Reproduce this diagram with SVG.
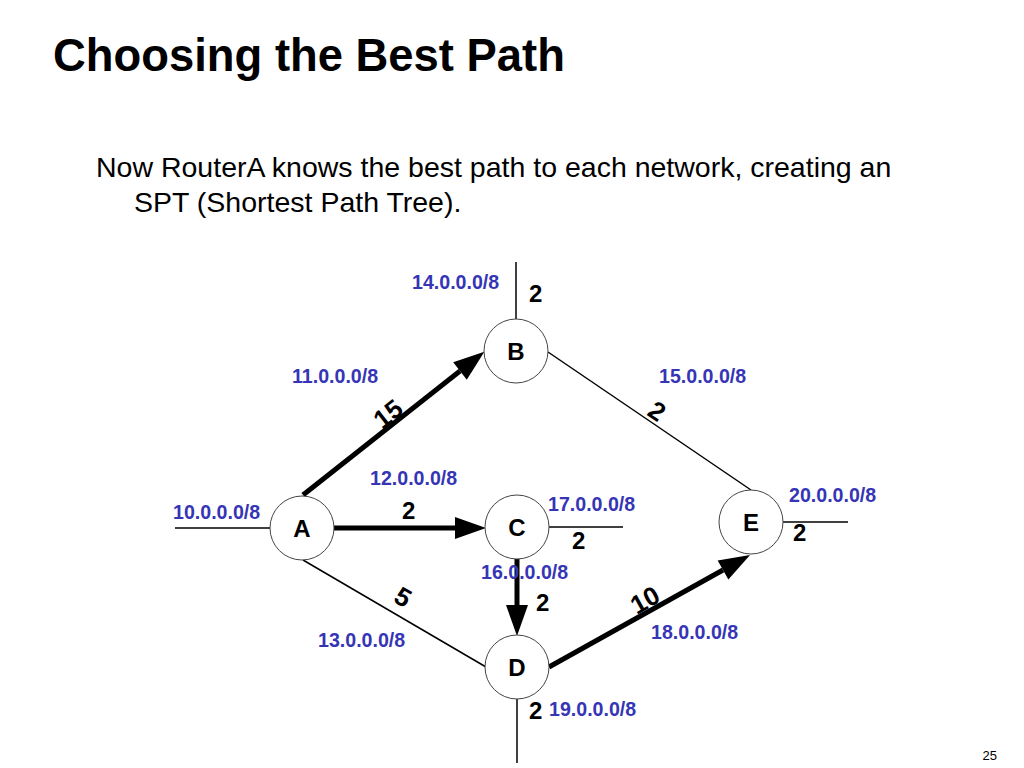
<svg xmlns="http://www.w3.org/2000/svg" width="1024" height="768" viewBox="0 0 1024 768">
<style>
.title{font-family:"Liberation Sans",Arial,sans-serif;font-weight:bold;font-size:45.4px;fill:#000}
.body{font-family:"Liberation Sans",Arial,sans-serif;font-size:28.5px;fill:#000}
.net{font-family:"Liberation Sans",Arial,sans-serif;font-weight:bold;font-size:19.6px;fill:#3535b5}
.w{font-family:"Liberation Sans",Arial,sans-serif;font-weight:bold;font-size:24px;fill:#000}
.lbl{font-family:"Liberation Sans",Arial,sans-serif;font-weight:bold;font-size:24px;fill:#000;text-anchor:middle}
.rot{font-family:"Liberation Sans",Arial,sans-serif;font-weight:bold;font-size:26px;fill:#000;text-anchor:middle}
.node{fill:#fff;stroke:#444;stroke-width:1}
.thin{stroke:#000;stroke-width:1.5;fill:none}
.thick{stroke:#000;stroke-width:5;fill:none;marker-end:url(#ah)}
.pg{font-family:"Liberation Sans",Arial,sans-serif;font-size:13px;fill:#000;text-anchor:end}
</style>
<defs>
<marker id="ah" markerUnits="userSpaceOnUse" markerWidth="32" markerHeight="24" refX="0" refY="0" orient="auto" overflow="visible">
<path d="M0,-11 L31,0 L0,11 z" fill="#000"/>
</marker>
</defs>
<rect width="1024" height="768" fill="#fff"/>
<text class="title" x="53" y="71">Choosing the Best Path</text>
<text class="body" x="96" y="177">Now RouterA knows the best path to each network, creating an</text>
<text class="body" x="134" y="212">SPT (Shortest Path Tree).</text>
<g id="connectors">
<line class="thin" x1="516" y1="262" x2="516" y2="319"/>
<line class="thin" x1="175" y1="528" x2="271" y2="528"/>
<line class="thin" x1="303" y1="560" x2="486" y2="667"/>
<line class="thin" x1="548" y1="352" x2="751" y2="490"/>
<line class="thin" x1="549" y1="527" x2="623" y2="527"/>
<line class="thin" x1="517" y1="699" x2="517" y2="763"/>
<line class="thin" x1="783" y1="522" x2="848" y2="522"/>
<line class="thick" x1="303" y1="495" x2="460" y2="371"/>
<line class="thick" x1="334" y1="528" x2="455" y2="528"/>
<line class="thick" x1="517" y1="559" x2="517" y2="605"/>
<line class="thick" x1="549" y1="667" x2="723" y2="570"/>
</g>
<g id="nodeA"><circle class="node" cx="302" cy="528" r="32"/><text class="lbl" x="302" y="537">A</text></g>
<g id="nodeB"><circle class="node" cx="516" cy="351" r="32"/><text class="lbl" x="516" y="360">B</text></g>
<g id="nodeC"><circle class="node" cx="517" cy="527" r="32"/><text class="lbl" x="517" y="536">C</text></g>
<g id="nodeD"><circle class="node" cx="517" cy="667" r="32"/><text class="lbl" x="517" y="676">D</text></g>
<g id="nodeE"><circle class="node" cx="751" cy="522" r="32"/><text class="lbl" x="751" y="531">E</text></g>
<g id="networks">
<text class="net" x="412" y="289">14.0.0.0/8</text>
<text class="net" x="292" y="383">11.0.0.0/8</text>
<text class="net" x="659" y="383">15.0.0.0/8</text>
<text class="net" x="370" y="485">12.0.0.0/8</text>
<text class="net" x="548" y="511">17.0.0.0/8</text>
<text class="net" x="789" y="502">20.0.0.0/8</text>
<text class="net" x="173" y="519">10.0.0.0/8</text>
<text class="net" x="481" y="579">16.0.0.0/8</text>
<text class="net" x="651" y="639">18.0.0.0/8</text>
<text class="net" x="318" y="647">13.0.0.0/8</text>
<text class="net" x="549" y="716">19.0.0.0/8</text>
</g>
<g id="weights">
<text class="w" x="529" y="302">2</text>
<text class="w" x="402" y="519">2</text>
<text class="w" x="572" y="549">2</text>
<text class="w" x="536" y="611">2</text>
<text class="w" x="793" y="541">2</text>
<text class="w" x="529" y="719">2</text>
<text class="rot" transform="translate(388,414) rotate(-38)" y="9">15</text>
<text class="rot" transform="translate(657,411) rotate(34)" y="9">2</text>
<text class="rot" transform="translate(403,597) rotate(30)" y="9">5</text>
<text class="rot" transform="translate(645,600) rotate(-29)" y="9">10</text>
</g>
<text class="pg" x="997" y="760">25</text>
</svg>
